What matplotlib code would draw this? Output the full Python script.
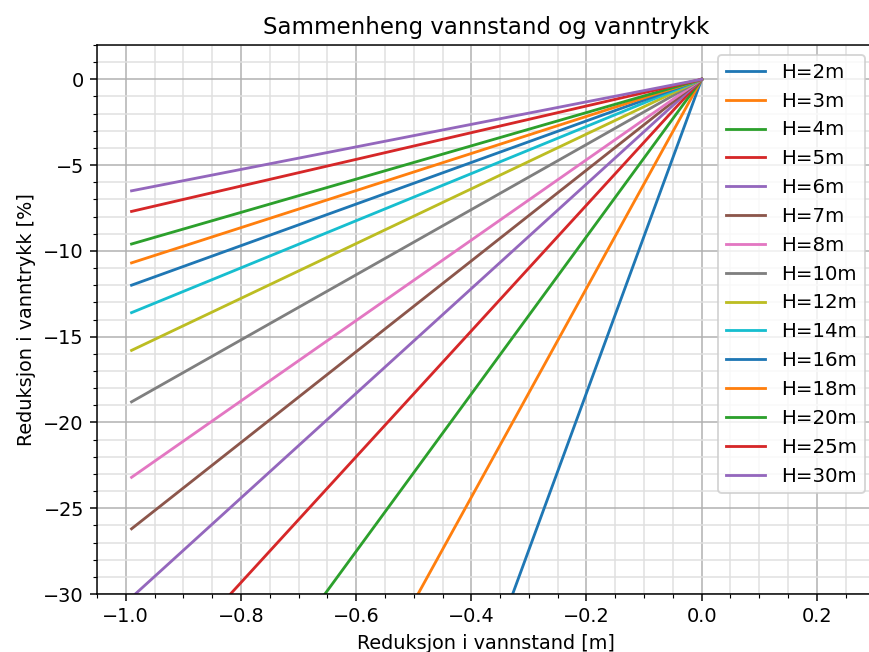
import numpy as np
import matplotlib
matplotlib.use("Agg")
import matplotlib.pyplot as plt
from matplotlib.ticker import MultipleLocator

# -----------------------------------------------------------
# Data
# -----------------------------------------------------------
# water depth for each line (m)
heights = [2, 3, 4, 5, 6, 7, 8, 10, 12, 14, 16, 18, 20, 25, 30]
# pressure reduction (%) at the start of each line
reduction_end = [-90.5, -60.3, -45.4, -36.3, -30.2, -26.2, -23.2, -18.8,
                 -15.8, -13.6, -12.0, -10.7, -9.6, -7.7, -6.5]
# water level reduction (m) at the two ends of each line
dh = [-0.99, 0.0]

# -----------------------------------------------------------
# Plot
# -----------------------------------------------------------
fig = plt.figure(figsize=(869 / 135, 652 / 135), dpi=135)
ax = fig.add_axes([97 / 869, 58 / 652, 0.8946, (594 - 45) / 652])

for h, r in zip(heights, reduction_end):
    ax.plot(dh, [r, 0.0], label="H=%dm" % h)

ax.set_xlim(-1.05, 0.3)
ax.set_ylim(-30, 2)
ax.xaxis.set_major_locator(MultipleLocator(0.2))
ax.xaxis.set_minor_locator(MultipleLocator(0.05))
ax.yaxis.set_major_locator(MultipleLocator(5))
ax.yaxis.set_minor_locator(MultipleLocator(1))
ax.tick_params(labelsize=10.3)
ax.grid(which="major", color="#b0b0b0", linewidth=0.8)
ax.grid(which="minor", color="#e0e0e0", linewidth=0.8)

ax.set_title("Sammenheng vannstand og vanntrykk", fontsize=12.2)
ax.set_xlabel("Reduksjon i vannstand [m]", fontsize=10.3)
ax.set_ylabel("Reduksjon i vanntrykk [%]", fontsize=10.3)
ax.legend(loc="upper right", fontsize=10.5)

fig.savefig("out.png", dpi=135)
